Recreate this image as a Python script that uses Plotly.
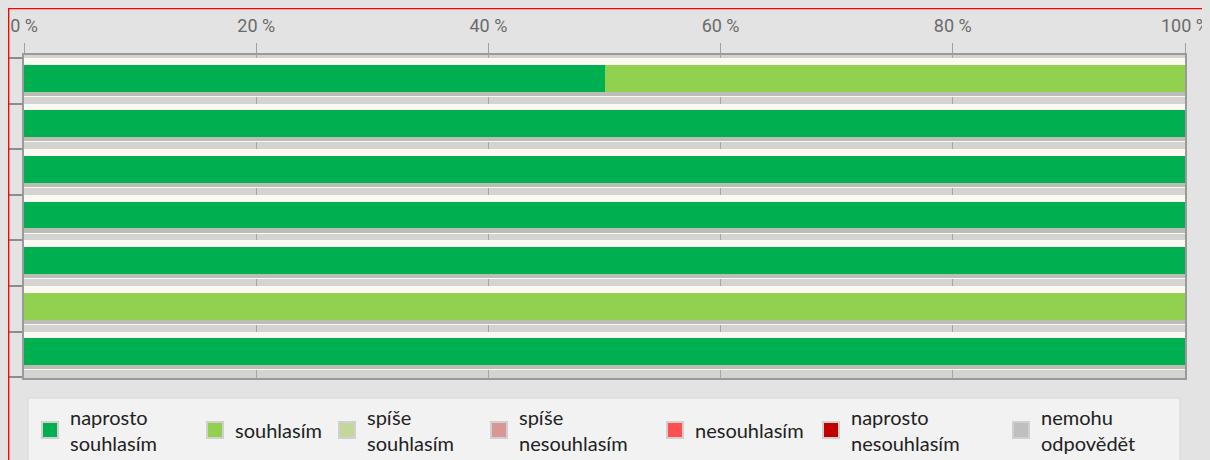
import plotly.graph_objects as go

# ---- data ----
rows = ["1", "2", "3", "4", "5", "6", "7"]
naprosto_souhlasim = [50, 100, 100, 100, 100, 0, 100]
souhlasim = [50, 0, 0, 0, 0, 100, 0]
spise_souhlasim = [0, 0, 0, 0, 0, 0, 0]
spise_nesouhlasim = [0, 0, 0, 0, 0, 0, 0]
nesouhlasim = [0, 0, 0, 0, 0, 0, 0]
naprosto_nesouhlasim = [0, 0, 0, 0, 0, 0, 0]
nemohu_odpovedet = [0, 0, 0, 0, 0, 0, 0]

series_names = ["naprosto<br>souhlasím", "souhlasím", "spíše<br>souhlasím",
                "spíše<br>nesouhlasím", "nesouhlasím", "naprosto<br>nesouhlasím",
                "nemohu<br>odpovědět"]
series_values = [naprosto_souhlasim, souhlasim, spise_souhlasim, spise_nesouhlasim,
                 nesouhlasim, naprosto_nesouhlasim, nemohu_odpovedet]
series_colors = ["#00B050", "#92D050", "#C4D79B", "#DA9694", "#FF5050", "#C00000", "#BFBFBF"]

x_ticks = [0, 20, 40, 60, 80, 100]
x_ticktext = ["0 %", "20 %", "40 %", "60 %", "80 %", "100 %"]

# legend swatch centres (page pixels)
legend_centers = [49, 214, 346, 498, 674, 830, 1020]

OFF = 8  # page body margin
W, H = 1210, 460 - OFF
ML, MR, MT, MB = 24 - OFF, 1210 + OFF - 1185, 55 - OFF, 460 - 378

n = len(rows)
ypos = list(range(n))
totals = [sum(v[i] for v in series_values) for i in range(n)]

fig = go.Figure()

# light stripe behind each bar
fig.add_trace(go.Bar(y=ypos, x=totals, base=[0] * n, orientation="h",
                     offset=-0.5, width=0.85, marker=dict(color="#FBF9F1", line=dict(width=0)),
                     hoverinfo="skip", showlegend=False))
# shadow under each bar
fig.add_trace(go.Bar(y=ypos, x=totals, base=[0] * n, orientation="h",
                     offset=0.24, width=0.09, marker=dict(color="#BDBDB8", line=dict(width=0)),
                     hoverinfo="skip", showlegend=False))

cum = [0] * n
for name, vals, col in zip(series_names, series_values, series_colors):
    fig.add_trace(go.Bar(y=ypos, x=vals, base=list(cum), orientation="h",
                         offset=-0.35, width=0.59,
                         marker=dict(color=col, line=dict(width=0)),
                         name=name.replace("<br>", " "), showlegend=False))
    cum = [c + v for c, v in zip(cum, vals)]

# legend entries
for k, (name, col) in enumerate(zip(series_names, series_colors)):
    lg = "legend" if k == 0 else f"legend{k + 1}"
    fig.add_trace(go.Scatter(x=[None], y=[None], mode="markers", name=name,
                             marker=dict(symbol="square", size=18, color=col,
                                         line=dict(color="#D0D0D0", width=2)),
                             legend=lg, showlegend=True))

pw = W - ML - MR
ph = H - MT - MB
def fx(p):  # page px -> paper x
    return (p - OFF - ML) / pw
def fy(p):  # page px -> paper y
    return (H - MB - (p - OFF)) / ph

legend_common = dict(xref="paper", yref="paper", xanchor="left", yanchor="middle",
                     orientation="h",
                     y=fy(430), bgcolor="rgba(0,0,0,0)", borderwidth=0,
                     font=dict(family="Lato, Noto Sans, sans-serif", size=20, color="#222222"),
                     itemsizing="trace")
legends = {}
for k, c in enumerate(legend_centers):
    lg = "legend" if k == 0 else f"legend{k + 1}"
    legends[lg] = dict(legend_common, x=fx(c - 19))

shapes = [
    # legend panel
    dict(type="rect", xref="paper", yref="paper", x0=fx(28), x1=fx(1180),
         y0=fy(475), y1=fy(398), fillcolor="#F2F2F2",
         line=dict(color="#D6D6D6", width=1), layer="below"),
    # red frame
    dict(type="line", xref="paper", yref="paper", x0=fx(8), x1=fx(1225),
         y0=fy(8.6), y1=fy(8.6), line=dict(color="#FF0000", width=1.5)),
    dict(type="line", xref="paper", yref="paper", x0=fx(8.6), x1=fx(8.6),
         y0=fy(8), y1=fy(470), line=dict(color="#FF0000", width=1.5)),
]

fig.update_layout(
    width=W, height=H,
    margin=dict(l=ML, r=MR, t=MT, b=MB, pad=0, autoexpand=False),
    paper_bgcolor="#E3E3E3", plot_bgcolor="#D3D3D1",
    barmode="overlay", bargap=0,
    shapes=shapes,
    **legends,
)
fig.update_xaxes(side="top", range=[0, 100], tickvals=x_ticks, ticktext=x_ticktext,
                 ticks="outside", ticklen=10, tickcolor="#A0A0A0", tickwidth=1,
                 ticklabelstandoff=4, ticklabeloverflow="allow",
                 showgrid=True, gridcolor="#A5A5A5", gridwidth=1, zeroline=False,
                 showline=True, linecolor="#9A9A9A", linewidth=2, mirror=True,
                 tickfont=dict(family="Roboto, sans-serif", size=18, color="#6B6B6B"),
                 fixedrange=True)
fig.update_yaxes(range=[n - 0.5 + 0.02, -0.5 - 3 / 45.7],
                 tickvals=[i - 0.5 for i in range(n + 1)], showticklabels=False,
                 ticks="outside", ticklen=14, tickcolor="#8C8C8C", tickwidth=2,
                 showgrid=False, zeroline=False,
                 showline=True, linecolor="#9A9A9A", linewidth=2, mirror=True,
                 fixedrange=True)

fig.write_html("out.html", post_script="document.body.style.backgroundColor='#E3E3E3';")
